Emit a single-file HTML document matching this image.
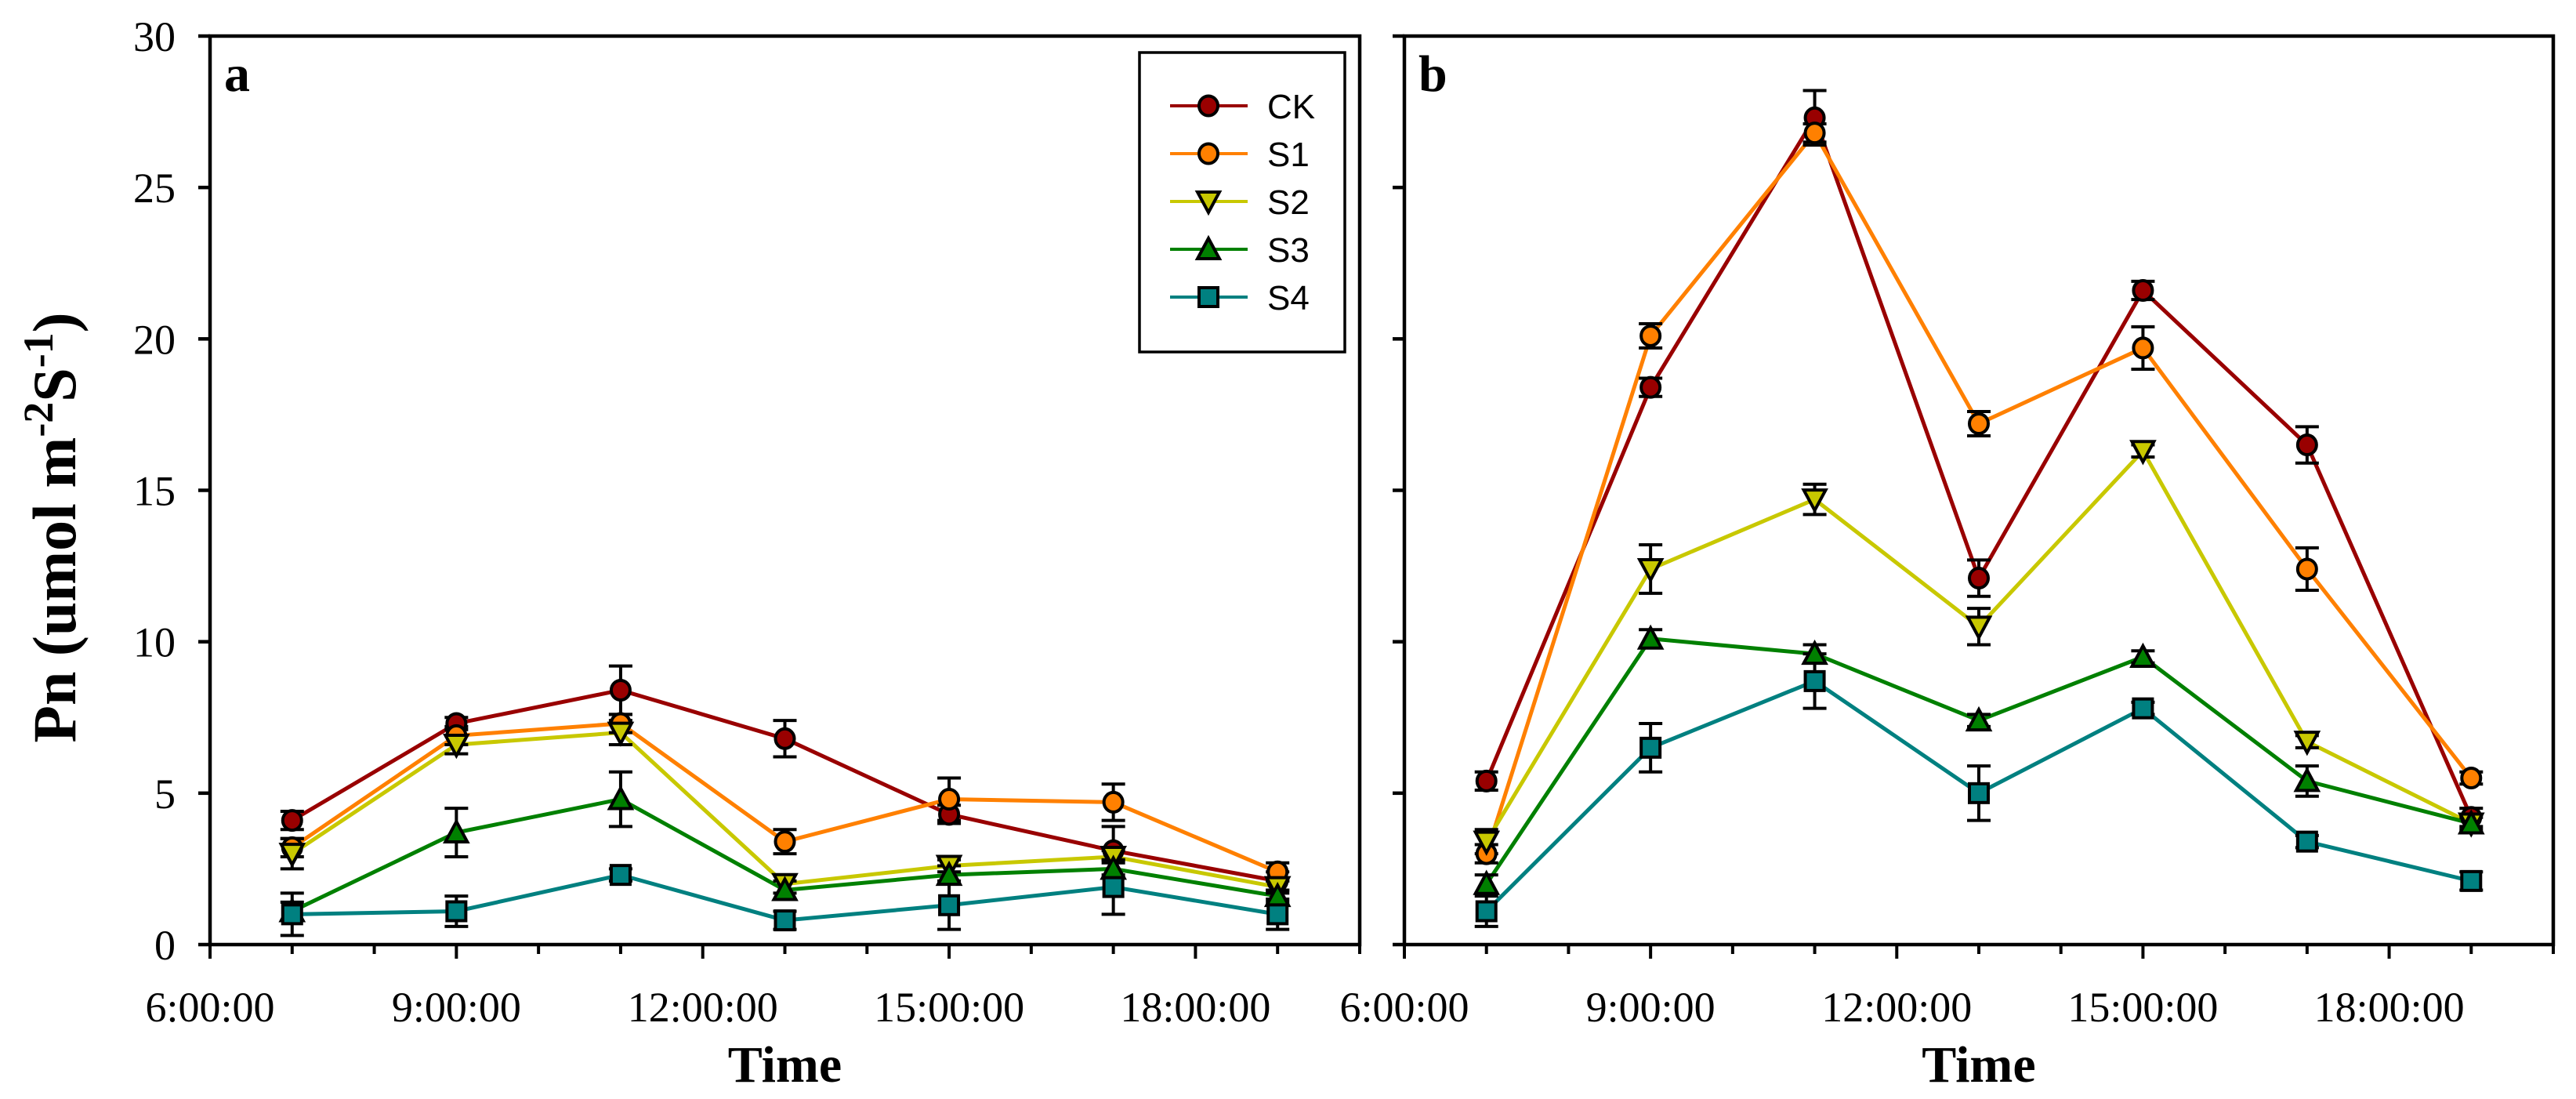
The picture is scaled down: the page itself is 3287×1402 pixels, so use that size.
<!DOCTYPE html>
<html><head><meta charset="utf-8"><style>
html,body{margin:0;padding:0;background:#fff;}
svg{display:block;}
</style></head><body>
<svg id="chart" width="3287" height="1402" viewBox="0 0 3287 1402" xmlns="http://www.w3.org/2000/svg">
<text transform="translate(96,673) rotate(-90)" text-anchor="middle" font-family="Liberation Serif, serif" font-weight="bold" font-size="78">Pn (umol m<tspan dy="-29" font-size="54">-2</tspan><tspan dy="29">S</tspan><tspan dy="-29" font-size="54">-1</tspan><tspan dy="29">)</tspan></text>
<g id="legend"></g>
</svg>
<script>
const times = [7, 9, 11, 13, 15, 17, 19];
const seriesNames = ['CK', 'S1', 'S2', 'S3', 'S4'];
const seriesColors = ['#990000', '#ff8000', '#c8c800', '#008000', '#008080'];
const seriesMarkers = ['circle', 'circle', 'tri-down', 'tri-up', 'square'];
const yTicks = [0, 5, 10, 15, 20, 25, 30];
const xTickHours = [6, 9, 12, 15, 18];
const xTickLabels = ['6:00:00', '9:00:00', '12:00:00', '15:00:00', '18:00:00'];
// panel a
const aCK = [4.1, 7.3, 8.4, 6.8, 4.3, 3.1, 2.1];
const aCKerr = [0.3, 0.2, 0.8, 0.6, 0.3, 0.8, 0.3];
const aS1 = [3.2, 6.9, 7.3, 3.4, 4.8, 4.7, 2.4];
const aS1err = [0.3, 0.3, 0.3, 0.4, 0.7, 0.6, 0.3];
const aS2 = [3.0, 6.6, 7.0, 2.0, 2.6, 2.9, 1.9];
const aS2err = [0.5, 0.3, 0.4, 0.3, 0.2, 0.2, 0.2];
const aS3 = [1.1, 3.7, 4.8, 1.8, 2.3, 2.5, 1.6];
const aS3err = [0.3, 0.8, 0.9, 0.3, 0.3, 0.3, 0.2];
const aS4 = [1.0, 1.1, 2.3, 0.8, 1.3, 1.9, 1.0];
const aS4err = [0.7, 0.5, 0.2, 0.3, 0.8, 0.9, 0.5];
// panel b
const bCK = [5.4, 18.4, 27.3, 12.1, 21.6, 16.5, 4.2];
const bCKerr = [0.3, 0.3, 0.9, 0.6, 0.3, 0.6, 0.3];
const bS1 = [3.0, 20.1, 26.8, 17.2, 19.7, 12.4, 5.5];
const bS1err = [0.3, 0.4, 0.3, 0.4, 0.7, 0.7, 0.2];
const bS2 = [3.4, 12.4, 14.7, 10.5, 16.3, 6.7, 4.0];
const bS2err = [0.4, 0.8, 0.5, 0.6, 0.2, 0.2, 0.2];
const bS3 = [2.0, 10.1, 9.6, 7.4, 9.5, 5.4, 4.0];
const bS3err = [0.3, 0.3, 0.3, 0.2, 0.2, 0.5, 0.3];
const bS4 = [1.1, 6.5, 8.7, 5.0, 7.8, 3.4, 2.1];
const bS4err = [0.5, 0.8, 0.9, 0.9, 0.2, 0.2, 0.3];

const NS = 'http://www.w3.org/2000/svg';
const svg = document.getElementById('chart');
function mk(tag, attrs, parent) {
  const e = document.createElementNS(NS, tag);
  for (const k in attrs) e.setAttribute(k, attrs[k]);
  (parent || svg).appendChild(e);
  return e;
}
const yTop = 46, yBot = 1205;
function yScale(v) { return yBot - (v / 30) * (yBot - yTop); }

function marker(g, type, x, y, color) {
  let m;
  if (type === 'circle') m = mk('ellipse', {cx: x, cy: y, rx: 12, ry: 12.5, fill: color, stroke: '#000', 'stroke-width': 4}, g);
  else if (type === 'square') m = mk('rect', {x: x - 12, y: y - 12, width: 24, height: 24, fill: color, stroke: '#000', 'stroke-width': 4}, g);
  else if (type === 'tri-down') m = mk('polygon', {points: `${x-14},${y-12} ${x+14},${y-12} ${x},${y+14}`, fill: color, stroke: '#000', 'stroke-width': 4}, g);
  else m = mk('polygon', {points: `${x-14},${y+12} ${x+14},${y+12} ${x},${y-14}`, fill: color, stroke: '#000', 'stroke-width': 4}, g);
  return m;
}

function panel(id, x0, x1, label, data, errs, showYLabels) {
  const g = mk('g', {});
  
  
  const xScale = h => x0 + (h - 6) / 14 * (x1 - x0);
  data.forEach((vals, si) => {
    const sg = mk('g', {}, g);
    
    
    const pts = vals.map((v, i) => xScale(times[i]) + ',' + yScale(v)).join(' ');
    const line = mk('polyline', {points: pts, fill: 'none', stroke: seriesColors[si], 'stroke-width': 5}, sg);
    
    
  });
  data.forEach((vals, si) => {
    vals.forEach((v, i) => {
      const x = xScale(times[i]);
      const e = errs[si][i];
      const eb = mk('path', {d: `M${x},${yScale(v+e)}V${yScale(v-e)}M${x-15},${yScale(v+e)}H${x+15}M${x-15},${yScale(v-e)}H${x+15}`, stroke: '#000', 'stroke-width': 4, fill: 'none'}, g);
      
      
    });
  });
  data.forEach((vals, si) => {
    vals.forEach((v, i) => {
      const m = marker(g, seriesMarkers[si], xScale(times[i]), yScale(v), seriesColors[si]);
      
      
    });
  });
  const fr = mk('rect', {x: x0, y: yTop, width: x1 - x0, height: yBot - yTop, fill: 'none', stroke: '#000', 'stroke-width': 4.5}, g);
  
  
  yTicks.forEach(t => {
    const y = yScale(t);
    const tk = mk('line', {x1: x0 - 15, x2: x0, y1: y, y2: y, stroke: '#000', 'stroke-width': 4.5}, g);
    
    
    if (showYLabels) {
      const tl = mk('text', {x: x0 - 44, y: y + 19, 'text-anchor': 'end', 'font-family': 'Liberation Serif, serif', 'font-size': 54}, g);
      tl.textContent = t;
      
      
    }
  });
  for (let h = 6; h <= 20; h++) {
    const x = xScale(h);
    const major = xTickHours.indexOf(h) >= 0;
    const tk = mk('line', {x1: x, x2: x, y1: yBot, y2: yBot + (major ? 18 : 12), stroke: '#000', 'stroke-width': 4}, g);
    
    
  }
  xTickHours.forEach((h, i) => {
    const tl = mk('text', {x: xScale(h), y: 1303, 'text-anchor': 'middle', 'font-family': 'Liberation Serif, serif', 'font-size': 54}, g);
    tl.textContent = xTickLabels[i];
    
    
  });
  const xt = mk('text', {x: (x0 + x1) / 2, y: 1380, 'text-anchor': 'middle', 'font-family': 'Liberation Serif, serif', 'font-weight': 'bold', 'font-size': 66}, g);
  xt.textContent = 'Time';
  
  
  const pl = mk('text', {x: x0 + 18, y: 116, 'font-family': 'Liberation Serif, serif', 'font-weight': 'bold', 'font-size': 66}, g);
  pl.textContent = label;
  
  
}
panel('a', 268, 1735, 'a', [aCK, aS1, aS2, aS3, aS4], [aCKerr, aS1err, aS2err, aS3err, aS4err], true);
panel('b', 1792, 3258, 'b', [bCK, bS1, bS2, bS3, bS4], [bCKerr, bS1err, bS2err, bS3err, bS4err], false);

const lg = document.getElementById('legend');
svg.appendChild(lg);
mk('rect', {x: 1454, y: 67, width: 262, height: 382, fill: '#fff', stroke: '#000', 'stroke-width': 3.5}, lg);
seriesNames.forEach((n, i) => {
  const y = 135 + i * 61;
  const eg = mk('g', {}, lg);
  
  
  mk('line', {x1: 1493, x2: 1592, y1: y, y2: y, stroke: seriesColors[i], 'stroke-width': 4}, eg);
  marker(eg, seriesMarkers[i], 1542, y, seriesColors[i]);
  const t = mk('text', {x: 1617, y: y + 16, 'font-family': 'Liberation Sans, sans-serif', 'font-size': 44}, eg);
  t.textContent = n;
});
</script>
</body></html>
